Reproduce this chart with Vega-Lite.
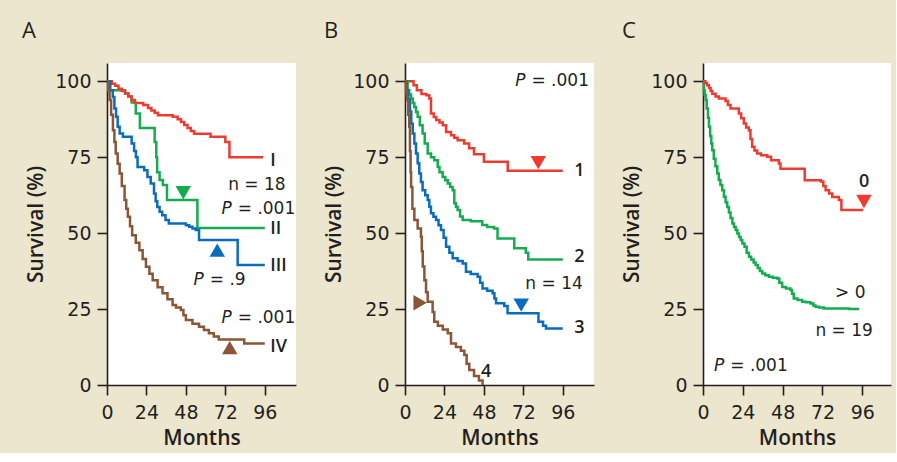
{
  "$schema": "https://vega.github.io/schema/vega-lite/v6.json",
  "background": "#EDE6CF",
  "padding": {"left": 22, "top": 20, "right": 5, "bottom": 5},
  "spacing": 27,
  "config": {
    "view": {"fill": "white", "stroke": null},
    "font": "Open Sans",
    "axis": {
      "grid": false,
      "domainColor": "#231F20", "domainWidth": 1.6,
      "tickColor": "#231F20", "tickWidth": 1.6, "tickSize": 10,
      "labelFont": "DejaVu Sans", "labelFontSize": 19, "labelColor": "#231F20",
      "titleFont": "Open Sans", "titleFontSize": 21, "titleFontWeight": 600, "titleColor": "#231F20"
    },
    "axisX": {"labelPadding": 8, "titlePadding": 5, "labelFlush": false},
    "axisY": {"labelPadding": 6, "titlePadding": 8},
    "title": {"anchor": "start", "frame": "group", "fontSize": 22, "fontWeight": "normal", "font": "Open Sans", "color": "#231F20", "baseline": "alphabetic", "offset": 20},
    "text": {"font": "DejaVu Sans", "fontSize": 17, "color": "#231F20", "baseline": "middle"}
  },
  "datasets": {
    "km": [
      {"panel":"A","curve":"II","m":0,"s":100},{"panel":"A","curve":"II","m":1,"s":97},{"panel":"A","curve":"II","m":11,"s":96},{"panel":"A","curve":"II","m":13,"s":95},{"panel":"A","curve":"II","m":15,"s":93},{"panel":"A","curve":"II","m":17.5,"s":89.4},{"panel":"A","curve":"II","m":20,"s":84.6},{"panel":"A","curve":"II","m":29,"s":80},{"panel":"A","curve":"II","m":30,"s":75},{"panel":"A","curve":"II","m":30.5,"s":70},{"panel":"A","curve":"II","m":32,"s":67.5},{"panel":"A","curve":"II","m":34,"s":65.8},{"panel":"A","curve":"II","m":36.5,"s":60.9},{"panel":"A","curve":"II","m":55,"s":51.7},{"panel":"A","curve":"II","m":96,"s":51.7},

      {"panel":"A","curve":"I","m":0,"s":100},{"panel":"A","curve":"I","m":3,"s":99.2},{"panel":"A","curve":"I","m":5,"s":98.5},{"panel":"A","curve":"I","m":7,"s":97.5},{"panel":"A","curve":"I","m":9,"s":96.8},{"panel":"A","curve":"I","m":11,"s":96},{"panel":"A","curve":"I","m":13,"s":95},{"panel":"A","curve":"I","m":15,"s":93.8},{"panel":"A","curve":"I","m":17,"s":92.8},{"panel":"A","curve":"I","m":22,"s":92.2},{"panel":"A","curve":"I","m":25,"s":91.2},{"panel":"A","curve":"I","m":27,"s":90.4},{"panel":"A","curve":"I","m":29,"s":89.6},{"panel":"A","curve":"I","m":31,"s":88.8},{"panel":"A","curve":"I","m":40,"s":88.3},{"panel":"A","curve":"I","m":43,"s":87.5},{"panel":"A","curve":"I","m":45,"s":86.6},{"panel":"A","curve":"I","m":47,"s":85.6},{"panel":"A","curve":"I","m":49,"s":84.6},{"panel":"A","curve":"I","m":51,"s":83.6},{"panel":"A","curve":"I","m":53,"s":82.7},{"panel":"A","curve":"I","m":63,"s":81.7},{"panel":"A","curve":"I","m":72,"s":80},{"panel":"A","curve":"I","m":74.5,"s":75},{"panel":"A","curve":"I","m":95,"s":75},

      {"panel":"A","curve":"III","m":0,"s":100},{"panel":"A","curve":"III","m":2,"s":97},{"panel":"A","curve":"III","m":3.5,"s":94.8},{"panel":"A","curve":"III","m":4.5,"s":91},{"panel":"A","curve":"III","m":5.5,"s":88.3},{"panel":"A","curve":"III","m":6.5,"s":85},{"panel":"A","curve":"III","m":7.7,"s":82.8},{"panel":"A","curve":"III","m":9.7,"s":81.7},{"panel":"A","curve":"III","m":15,"s":79.5},{"panel":"A","curve":"III","m":16.5,"s":77},{"panel":"A","curve":"III","m":17.6,"s":75},{"panel":"A","curve":"III","m":18.6,"s":71.8},{"panel":"A","curve":"III","m":22.6,"s":70.7},{"panel":"A","curve":"III","m":24.6,"s":68.5},{"panel":"A","curve":"III","m":26.6,"s":66.3},{"panel":"A","curve":"III","m":28.6,"s":63},{"panel":"A","curve":"III","m":29.6,"s":60.5},{"panel":"A","curve":"III","m":30.6,"s":58.6},{"panel":"A","curve":"III","m":32,"s":57},{"panel":"A","curve":"III","m":33.6,"s":55.9},{"panel":"A","curve":"III","m":35.6,"s":54.3},{"panel":"A","curve":"III","m":37.6,"s":53.2},{"panel":"A","curve":"III","m":48,"s":52.6},{"panel":"A","curve":"III","m":50,"s":52.1},{"panel":"A","curve":"III","m":52,"s":51.5},{"panel":"A","curve":"III","m":54,"s":51},{"panel":"A","curve":"III","m":56,"s":47.7},{"panel":"A","curve":"III","m":79.5,"s":39.5},{"panel":"A","curve":"III","m":96,"s":39.5},

      {"panel":"A","curve":"IV","m":0,"s":100},{"panel":"A","curve":"IV","m":0.8,"s":97},{"panel":"A","curve":"IV","m":1.6,"s":93.8},{"panel":"A","curve":"IV","m":2.5,"s":89},{"panel":"A","curve":"IV","m":3.6,"s":83.9},{"panel":"A","curve":"IV","m":4.5,"s":80},{"panel":"A","curve":"IV","m":5.3,"s":76.2},{"panel":"A","curve":"IV","m":6.5,"s":72.8},{"panel":"A","curve":"IV","m":7.7,"s":69.6},{"panel":"A","curve":"IV","m":9,"s":65.5},{"panel":"A","curve":"IV","m":10.7,"s":60.9},{"panel":"A","curve":"IV","m":11.7,"s":58},{"panel":"A","curve":"IV","m":12.7,"s":55.4},{"panel":"A","curve":"IV","m":14,"s":52.3},{"panel":"A","curve":"IV","m":15.3,"s":49.3},{"panel":"A","curve":"IV","m":17.5,"s":46.8},{"panel":"A","curve":"IV","m":19.7,"s":44.4},{"panel":"A","curve":"IV","m":21.7,"s":41.5},{"panel":"A","curve":"IV","m":23.7,"s":38.9},{"panel":"A","curve":"IV","m":25.8,"s":36.6},{"panel":"A","curve":"IV","m":27.8,"s":34.5},{"panel":"A","curve":"IV","m":30.8,"s":32.2},{"panel":"A","curve":"IV","m":33.8,"s":30.2},{"panel":"A","curve":"IV","m":36.8,"s":28.2},{"panel":"A","curve":"IV","m":39.9,"s":26.3},{"panel":"A","curve":"IV","m":42,"s":25.5},{"panel":"A","curve":"IV","m":44.9,"s":24.7},{"panel":"A","curve":"IV","m":46.5,"s":23},{"panel":"A","curve":"IV","m":48,"s":21.4},{"panel":"A","curve":"IV","m":52,"s":20.2},{"panel":"A","curve":"IV","m":56,"s":19.2},{"panel":"A","curve":"IV","m":59,"s":18.1},{"panel":"A","curve":"IV","m":62,"s":17},{"panel":"A","curve":"IV","m":65,"s":16},{"panel":"A","curve":"IV","m":68,"s":15},{"panel":"A","curve":"IV","m":83.5,"s":13.7},{"panel":"A","curve":"IV","m":96,"s":13.7},

      {"panel":"B","curve":"1","m":0,"s":100},{"panel":"B","curve":"1","m":5.2,"s":98.7},{"panel":"B","curve":"1","m":7.2,"s":97},{"panel":"B","curve":"1","m":10,"s":95.8},{"panel":"B","curve":"1","m":13,"s":95.4},{"panel":"B","curve":"1","m":14.8,"s":94.3},{"panel":"B","curve":"1","m":15.8,"s":89.4},{"panel":"B","curve":"1","m":17.5,"s":88.2},{"panel":"B","curve":"1","m":19,"s":87.2},{"panel":"B","curve":"1","m":21,"s":86.4},{"panel":"B","curve":"1","m":23,"s":85.5},{"panel":"B","curve":"1","m":25,"s":83.3},{"panel":"B","curve":"1","m":28,"s":82.2},{"panel":"B","curve":"1","m":30,"s":81.4},{"panel":"B","curve":"1","m":32,"s":80.6},{"panel":"B","curve":"1","m":36,"s":79.5},{"panel":"B","curve":"1","m":39,"s":77.9},{"panel":"B","curve":"1","m":42,"s":76},{"panel":"B","curve":"1","m":48,"s":73.5},{"panel":"B","curve":"1","m":62.5,"s":70.5},{"panel":"B","curve":"1","m":96,"s":70.5},

      {"panel":"B","curve":"2","m":0,"s":100},{"panel":"B","curve":"2","m":1.6,"s":97},{"panel":"B","curve":"2","m":2.6,"s":95.6},{"panel":"B","curve":"2","m":3.7,"s":94.3},{"panel":"B","curve":"2","m":4.7,"s":92.8},{"panel":"B","curve":"2","m":5.7,"s":91.5},{"panel":"B","curve":"2","m":6.7,"s":89.9},{"panel":"B","curve":"2","m":7.7,"s":88.3},{"panel":"B","curve":"2","m":9,"s":85.5},{"panel":"B","curve":"2","m":10.7,"s":82.8},{"panel":"B","curve":"2","m":12,"s":79.5},{"panel":"B","curve":"2","m":13.8,"s":76.2},{"panel":"B","curve":"2","m":15.8,"s":75},{"panel":"B","curve":"2","m":17.8,"s":74},{"panel":"B","curve":"2","m":19.9,"s":71.8},{"panel":"B","curve":"2","m":21,"s":70},{"panel":"B","curve":"2","m":22.9,"s":68.5},{"panel":"B","curve":"2","m":24.5,"s":67.4},{"panel":"B","curve":"2","m":26,"s":66.3},{"panel":"B","curve":"2","m":27.5,"s":65.2},{"panel":"B","curve":"2","m":29,"s":64.1},{"panel":"B","curve":"2","m":30,"s":59.8},{"panel":"B","curve":"2","m":31,"s":58.7},{"panel":"B","curve":"2","m":32,"s":57.6},{"panel":"B","curve":"2","m":33.5,"s":55.5},{"panel":"B","curve":"2","m":35.1,"s":54.3},{"panel":"B","curve":"2","m":40,"s":53.9},{"panel":"B","curve":"2","m":47,"s":52.7},{"panel":"B","curve":"2","m":50,"s":52},{"panel":"B","curve":"2","m":54.2,"s":51.5},{"panel":"B","curve":"2","m":56.3,"s":48.2},{"panel":"B","curve":"2","m":66.5,"s":45},{"panel":"B","curve":"2","m":73.5,"s":43.5},{"panel":"B","curve":"2","m":75,"s":41.3},{"panel":"B","curve":"2","m":96,"s":41.3},

      {"panel":"B","curve":"3","m":0,"s":100},{"panel":"B","curve":"3","m":1,"s":97},{"panel":"B","curve":"3","m":2,"s":94},{"panel":"B","curve":"3","m":3,"s":90},{"panel":"B","curve":"3","m":3.8,"s":86},{"panel":"B","curve":"3","m":4.7,"s":82.8},{"panel":"B","curve":"3","m":5.7,"s":79.5},{"panel":"B","curve":"3","m":6.7,"s":76.2},{"panel":"B","curve":"3","m":7.7,"s":73},{"panel":"B","curve":"3","m":8.7,"s":69.6},{"panel":"B","curve":"3","m":9.7,"s":66.8},{"panel":"B","curve":"3","m":10.7,"s":64.1},{"panel":"B","curve":"3","m":12.3,"s":62.5},{"panel":"B","curve":"3","m":13.8,"s":60.9},{"panel":"B","curve":"3","m":14.8,"s":58.7},{"panel":"B","curve":"3","m":15.8,"s":56.5},{"panel":"B","curve":"3","m":17.3,"s":55.4},{"panel":"B","curve":"3","m":18.9,"s":54.3},{"panel":"B","curve":"3","m":20.4,"s":52.6},{"panel":"B","curve":"3","m":21.9,"s":51},{"panel":"B","curve":"3","m":23.5,"s":48.5},{"panel":"B","curve":"3","m":25,"s":45.5},{"panel":"B","curve":"3","m":27,"s":43.5},{"panel":"B","curve":"3","m":29,"s":41.7},{"panel":"B","curve":"3","m":32,"s":40.8},{"panel":"B","curve":"3","m":35.1,"s":40},{"panel":"B","curve":"3","m":37.1,"s":37.3},{"panel":"B","curve":"3","m":40,"s":36.5},{"panel":"B","curve":"3","m":44.2,"s":35.6},{"panel":"B","curve":"3","m":45.7,"s":33.7},{"panel":"B","curve":"3","m":47.2,"s":31.8},{"panel":"B","curve":"3","m":50,"s":31},{"panel":"B","curve":"3","m":53.3,"s":30.2},{"panel":"B","curve":"3","m":54.4,"s":28.5},{"panel":"B","curve":"3","m":55.4,"s":26.9},{"panel":"B","curve":"3","m":60.4,"s":26},{"panel":"B","curve":"3","m":62.4,"s":23.6},{"panel":"B","curve":"3","m":81.2,"s":20.8},{"panel":"B","curve":"3","m":84,"s":19.5},{"panel":"B","curve":"3","m":85.8,"s":18.6},{"panel":"B","curve":"3","m":96,"s":18.6},

      {"panel":"B","curve":"4","m":0,"s":100},{"panel":"B","curve":"4","m":0.6,"s":96},{"panel":"B","curve":"4","m":1.2,"s":93.8},{"panel":"B","curve":"4","m":2,"s":89},{"panel":"B","curve":"4","m":2.6,"s":85},{"panel":"B","curve":"4","m":3,"s":77},{"panel":"B","curve":"4","m":3.4,"s":70},{"panel":"B","curve":"4","m":3.7,"s":65.2},{"panel":"B","curve":"4","m":4.5,"s":58},{"panel":"B","curve":"4","m":5.7,"s":54.3},{"panel":"B","curve":"4","m":7.7,"s":51.5},{"panel":"B","curve":"4","m":9.7,"s":48.8},{"panel":"B","curve":"4","m":10.2,"s":44},{"panel":"B","curve":"4","m":10.8,"s":39},{"panel":"B","curve":"4","m":11.8,"s":34.5},{"panel":"B","curve":"4","m":12.8,"s":30.5},{"panel":"B","curve":"4","m":13.8,"s":27.4},{"panel":"B","curve":"4","m":16.8,"s":24},{"panel":"B","curve":"4","m":17.8,"s":20.8},{"panel":"B","curve":"4","m":20,"s":19.5},{"panel":"B","curve":"4","m":23,"s":18.3},{"panel":"B","curve":"4","m":26,"s":17},{"panel":"B","curve":"4","m":28,"s":13.7},{"panel":"B","curve":"4","m":31,"s":12.5},{"panel":"B","curve":"4","m":34,"s":11.3},{"panel":"B","curve":"4","m":36.1,"s":9.9},{"panel":"B","curve":"4","m":37.5,"s":7},{"panel":"B","curve":"4","m":39.1,"s":4.9},{"panel":"B","curve":"4","m":42,"s":3},{"panel":"B","curve":"4","m":45,"s":1.5},{"panel":"B","curve":"4","m":47.2,"s":0},

      {"panel":"C","curve":">0","m":0,"s":100},{"panel":"C","curve":">0","m":0.5,"s":97},{"panel":"C","curve":">0","m":1,"s":95.5},{"panel":"C","curve":">0","m":1.6,"s":93.8},{"panel":"C","curve":">0","m":2.2,"s":91},{"panel":"C","curve":">0","m":3,"s":88},{"panel":"C","curve":">0","m":3.6,"s":85},{"panel":"C","curve":">0","m":4.3,"s":82},{"panel":"C","curve":">0","m":5,"s":79.5},{"panel":"C","curve":">0","m":5.6,"s":77.3},{"panel":"C","curve":">0","m":6.5,"s":74.5},{"panel":"C","curve":">0","m":7.5,"s":72},{"panel":"C","curve":">0","m":8.6,"s":69.6},{"panel":"C","curve":">0","m":9.5,"s":67.5},{"panel":"C","curve":">0","m":10.5,"s":65.8},{"panel":"C","curve":">0","m":11.6,"s":64.1},{"panel":"C","curve":">0","m":12.6,"s":62},{"panel":"C","curve":">0","m":13.6,"s":60.2},{"panel":"C","curve":">0","m":14.6,"s":58.6},{"panel":"C","curve":">0","m":15.6,"s":56.8},{"panel":"C","curve":">0","m":16.6,"s":55},{"panel":"C","curve":">0","m":17.7,"s":53.2},{"panel":"C","curve":">0","m":18.7,"s":52},{"panel":"C","curve":">0","m":19.7,"s":51},{"panel":"C","curve":">0","m":20.7,"s":49.9},{"panel":"C","curve":">0","m":21.7,"s":48.7},{"panel":"C","curve":">0","m":22.7,"s":47.7},{"panel":"C","curve":">0","m":23.7,"s":46.6},{"panel":"C","curve":">0","m":25,"s":45.5},{"panel":"C","curve":">0","m":26.3,"s":43.5},{"panel":"C","curve":">0","m":27.7,"s":42.2},{"panel":"C","curve":">0","m":29,"s":41.3},{"panel":"C","curve":">0","m":30.5,"s":40.3},{"panel":"C","curve":">0","m":31.7,"s":39.5},{"panel":"C","curve":">0","m":33,"s":38.5},{"panel":"C","curve":">0","m":34.3,"s":37.5},{"panel":"C","curve":">0","m":35.7,"s":36.7},{"panel":"C","curve":">0","m":37.5,"s":36.1},{"panel":"C","curve":">0","m":39.7,"s":35.6},{"panel":"C","curve":">0","m":42,"s":35.3},{"panel":"C","curve":">0","m":44.7,"s":35.1},{"panel":"C","curve":">0","m":46,"s":33.7},{"panel":"C","curve":">0","m":47.7,"s":32.3},{"panel":"C","curve":">0","m":50,"s":31.8},{"panel":"C","curve":">0","m":52.7,"s":31.3},{"panel":"C","curve":">0","m":53.7,"s":30},{"panel":"C","curve":">0","m":54.7,"s":28.5},{"panel":"C","curve":">0","m":57,"s":28},{"panel":"C","curve":">0","m":59.8,"s":27.4},{"panel":"C","curve":">0","m":62,"s":27.2},{"panel":"C","curve":">0","m":64.8,"s":26.8},{"panel":"C","curve":">0","m":66.5,"s":26.2},{"panel":"C","curve":">0","m":67.8,"s":25.8},{"panel":"C","curve":">0","m":70,"s":25.5},{"panel":"C","curve":">0","m":72.8,"s":25.2},{"panel":"C","curve":">0","m":88,"s":25},{"panel":"C","curve":">0","m":94,"s":25},

      {"panel":"C","curve":"0","m":0,"s":100},{"panel":"C","curve":"0","m":1.5,"s":99.3},{"panel":"C","curve":"0","m":2.5,"s":98.7},{"panel":"C","curve":"0","m":3.6,"s":97.8},{"panel":"C","curve":"0","m":4.6,"s":96.8},{"panel":"C","curve":"0","m":5.6,"s":95.9},{"panel":"C","curve":"0","m":7.6,"s":95},{"panel":"C","curve":"0","m":9.6,"s":94.3},{"panel":"C","curve":"0","m":13.6,"s":93.5},{"panel":"C","curve":"0","m":15,"s":92.2},{"panel":"C","curve":"0","m":16.6,"s":91},{"panel":"C","curve":"0","m":21.6,"s":89.4},{"panel":"C","curve":"0","m":23,"s":87.8},{"panel":"C","curve":"0","m":24.6,"s":86.1},{"panel":"C","curve":"0","m":26,"s":84.8},{"panel":"C","curve":"0","m":27.6,"s":83.9},{"panel":"C","curve":"0","m":28.6,"s":81},{"panel":"C","curve":"0","m":29.6,"s":78.4},{"panel":"C","curve":"0","m":31,"s":77.2},{"panel":"C","curve":"0","m":32.6,"s":76.2},{"panel":"C","curve":"0","m":35,"s":75.6},{"panel":"C","curve":"0","m":38.7,"s":75.1},{"panel":"C","curve":"0","m":41,"s":74},{"panel":"C","curve":"0","m":45.7,"s":72.9},{"panel":"C","curve":"0","m":46.7,"s":71.2},{"panel":"C","curve":"0","m":61.3,"s":67.4},{"panel":"C","curve":"0","m":71,"s":67},{"panel":"C","curve":"0","m":72.5,"s":65.5},{"panel":"C","curve":"0","m":73.9,"s":64.1},{"panel":"C","curve":"0","m":76,"s":63},{"panel":"C","curve":"0","m":77.9,"s":61.9},{"panel":"C","curve":"0","m":81.9,"s":60.9},{"panel":"C","curve":"0","m":83.4,"s":57.6},{"panel":"C","curve":"0","m":96.5,"s":57.6}
    ],
    "tri": [
      {"panel":"A","curve":"II","dir":"down","m":46.4,"s":63.3},
      {"panel":"A","curve":"III","dir":"up","m":67.1,"s":44.4},
      {"panel":"A","curve":"IV","dir":"up","m":74.7,"s":12.3},
      {"panel":"B","curve":"1","dir":"down","m":81.1,"s":73.2},
      {"panel":"B","curve":"3","dir":"down","m":70.7,"s":26.3},
      {"panel":"B","curve":"4","dir":"right","m":9.2,"s":27.1},
      {"panel":"C","curve":"0","dir":"down","m":97,"s":60.4}
    ],
    "curveLabels": [
      {"panel":"A","m":99.4,"s":73.8,"text":"I"},
      {"panel":"A","m":99.4,"s":51.3,"text":"II"},
      {"panel":"A","m":99.4,"s":39.2,"text":"III"},
      {"panel":"A","m":99.4,"s":12.6,"text":"IV"},
      {"panel":"B","m":103,"s":70.5,"text":"1"},
      {"panel":"B","m":103,"s":42,"text":"2"},
      {"panel":"B","m":103,"s":18.6,"text":"3"},
      {"panel":"B","m":46.3,"s":4.4,"text":"4"},
      {"panel":"C","m":94,"s":66.9,"text":"0"}
    ],
    "nLabels": [
      {"panel":"A","m":108.7,"s":65.8,"text":"n = 18"},
      {"panel":"B","m":108.2,"s":33.2,"text":"n = 14"},
      {"panel":"C","m":102.4,"s":17.8,"text":"n = 19"},
      {"panel":"C","m":97.9,"s":30.2,"text":"> 0"}
    ],
    "pLabels": [
      {"panel":"A","m":75.9,"s":58.1,"p":"P","rest":"= .001"},
      {"panel":"A","m":58.9,"s":34.5,"p":"P","rest":"= .9"},
      {"panel":"A","m":75.9,"s":21.9,"p":"P","rest":"= .001"},
      {"panel":"B","m":73.3,"s":100,"p":"P","rest":"= .001"},
      {"panel":"C","m":12.8,"s":6.3,"p":"P","rest":"= .001"}
    ]
  },
  "hconcat": [
    {
      "width": 189, "height": 322,
      "title": {"text": "A", "dx": -85},
      "layer": [
        {"data": {"name": "km"}, "transform": [{"filter": "datum.panel === 'A'"}],
         "mark": {"type": "line", "interpolate": "step-after", "strokeWidth": 2.5},
         "encoding": {
           "x": {"field": "m", "type": "quantitative", "scale": {"domain": [0, 115], "nice": false}, "axis": {"title": "Months", "values": [0, 24, 48, 72, 96]}},
           "y": {"field": "s", "type": "quantitative", "scale": {"domain": [0, 106], "nice": false}, "axis": {"title": "Survival (%)", "values": [0, 25, 50, 75, 100]}},
           "color": {"field": "curve", "type": "nominal", "scale": {"domain": ["I","II","III","IV","1","2","3","4","0",">0"], "range": ["#EE3B31","#14AC4F","#0A6CBE","#8B5636","#EE3B31","#14AC4F","#0A6CBE","#8B5636","#EE3B31","#14AC4F"]}, "legend": null}
         }},
        {"data": {"name": "tri"}, "transform": [{"filter": "datum.panel === 'A'"}],
         "mark": {"type": "point", "filled": true, "size": 240, "opacity": 1},
         "encoding": {
           "x": {"field": "m", "type": "quantitative"},
           "y": {"field": "s", "type": "quantitative"},
           "color": {"field": "curve", "type": "nominal", "legend": null},
           "shape": {"field": "dir", "type": "nominal", "scale": {"domain": ["down","up","right"], "range": ["triangle-down","triangle-up","triangle-right"]}, "legend": null}
         }},
        {"data": {"name": "curveLabels"}, "transform": [{"filter": "datum.panel === 'A'"}],
         "mark": {"type": "text", "align": "left", "fontWeight": 600, "font": "Open Sans", "fontSize": 18},
         "encoding": {"x": {"field": "m", "type": "quantitative"}, "y": {"field": "s", "type": "quantitative"}, "text": {"field": "text"}}},
        {"data": {"name": "nLabels"}, "transform": [{"filter": "datum.panel === 'A'"}],
         "mark": {"type": "text", "align": "right"},
         "encoding": {"x": {"field": "m", "type": "quantitative"}, "y": {"field": "s", "type": "quantitative"}, "text": {"field": "text"}}},
        {"data": {"name": "pLabels"}, "transform": [{"filter": "datum.panel === 'A'"}],
         "mark": {"type": "text", "align": "right", "fontStyle": "italic"},
         "encoding": {"x": {"field": "m", "type": "quantitative"}, "y": {"field": "s", "type": "quantitative"}, "text": {"field": "p"}}},
        {"data": {"name": "pLabels"}, "transform": [{"filter": "datum.panel === 'A'"}],
         "mark": {"type": "text", "align": "left", "dx": 6},
         "encoding": {"x": {"field": "m", "type": "quantitative"}, "y": {"field": "s", "type": "quantitative"}, "text": {"field": "rest"}}}
      ]
    },
    {
      "width": 189, "height": 322,
      "title": {"text": "B", "dx": -81},
      "layer": [
        {"data": {"name": "km"}, "transform": [{"filter": "datum.panel === 'B'"}],
         "mark": {"type": "line", "interpolate": "step-after", "strokeWidth": 2.5},
         "encoding": {
           "x": {"field": "m", "type": "quantitative", "scale": {"domain": [0, 115], "nice": false}, "axis": {"title": "Months", "values": [0, 24, 48, 72, 96]}},
           "y": {"field": "s", "type": "quantitative", "scale": {"domain": [0, 106], "nice": false}, "axis": {"title": "Survival (%)", "values": [0, 25, 50, 75, 100]}},
           "color": {"field": "curve", "type": "nominal", "scale": {"domain": ["I","II","III","IV","1","2","3","4","0",">0"], "range": ["#EE3B31","#14AC4F","#0A6CBE","#8B5636","#EE3B31","#14AC4F","#0A6CBE","#8B5636","#EE3B31","#14AC4F"]}, "legend": null}
         }},
        {"data": {"name": "tri"}, "transform": [{"filter": "datum.panel === 'B'"}],
         "mark": {"type": "point", "filled": true, "size": 240, "opacity": 1},
         "encoding": {
           "x": {"field": "m", "type": "quantitative"},
           "y": {"field": "s", "type": "quantitative"},
           "color": {"field": "curve", "type": "nominal", "legend": null},
           "shape": {"field": "dir", "type": "nominal", "scale": {"domain": ["down","up","right"], "range": ["triangle-down","triangle-up","triangle-right"]}, "legend": null}
         }},
        {"data": {"name": "curveLabels"}, "transform": [{"filter": "datum.panel === 'B'"}],
         "mark": {"type": "text", "align": "left", "fontWeight": 600, "font": "Open Sans", "fontSize": 18},
         "encoding": {"x": {"field": "m", "type": "quantitative"}, "y": {"field": "s", "type": "quantitative"}, "text": {"field": "text"}}},
        {"data": {"name": "nLabels"}, "transform": [{"filter": "datum.panel === 'B'"}],
         "mark": {"type": "text", "align": "right"},
         "encoding": {"x": {"field": "m", "type": "quantitative"}, "y": {"field": "s", "type": "quantitative"}, "text": {"field": "text"}}},
        {"data": {"name": "pLabels"}, "transform": [{"filter": "datum.panel === 'B'"}],
         "mark": {"type": "text", "align": "right", "fontStyle": "italic"},
         "encoding": {"x": {"field": "m", "type": "quantitative"}, "y": {"field": "s", "type": "quantitative"}, "text": {"field": "p"}}},
        {"data": {"name": "pLabels"}, "transform": [{"filter": "datum.panel === 'B'"}],
         "mark": {"type": "text", "align": "left", "dx": 6},
         "encoding": {"x": {"field": "m", "type": "quantitative"}, "y": {"field": "s", "type": "quantitative"}, "text": {"field": "rest"}}}
      ]
    },
    {
      "width": 188, "height": 322,
      "title": {"text": "C", "dx": -81},
      "layer": [
        {"data": {"name": "km"}, "transform": [{"filter": "datum.panel === 'C'"}],
         "mark": {"type": "line", "interpolate": "step-after", "strokeWidth": 2.5},
         "encoding": {
           "x": {"field": "m", "type": "quantitative", "scale": {"domain": [0, 113.3], "nice": false}, "axis": {"title": "Months", "values": [0, 24, 48, 72, 96]}},
           "y": {"field": "s", "type": "quantitative", "scale": {"domain": [0, 106], "nice": false}, "axis": {"title": "Survival (%)", "values": [0, 25, 50, 75, 100]}},
           "color": {"field": "curve", "type": "nominal", "scale": {"domain": ["I","II","III","IV","1","2","3","4","0",">0"], "range": ["#EE3B31","#14AC4F","#0A6CBE","#8B5636","#EE3B31","#14AC4F","#0A6CBE","#8B5636","#EE3B31","#14AC4F"]}, "legend": null}
         }},
        {"data": {"name": "tri"}, "transform": [{"filter": "datum.panel === 'C'"}],
         "mark": {"type": "point", "filled": true, "size": 240, "opacity": 1},
         "encoding": {
           "x": {"field": "m", "type": "quantitative"},
           "y": {"field": "s", "type": "quantitative"},
           "color": {"field": "curve", "type": "nominal", "legend": null},
           "shape": {"field": "dir", "type": "nominal", "scale": {"domain": ["down","up","right"], "range": ["triangle-down","triangle-up","triangle-right"]}, "legend": null}
         }},
        {"data": {"name": "curveLabels"}, "transform": [{"filter": "datum.panel === 'C'"}],
         "mark": {"type": "text", "align": "left", "fontWeight": 600, "font": "Open Sans", "fontSize": 18},
         "encoding": {"x": {"field": "m", "type": "quantitative"}, "y": {"field": "s", "type": "quantitative"}, "text": {"field": "text"}}},
        {"data": {"name": "nLabels"}, "transform": [{"filter": "datum.panel === 'C'"}],
         "mark": {"type": "text", "align": "right"},
         "encoding": {"x": {"field": "m", "type": "quantitative"}, "y": {"field": "s", "type": "quantitative"}, "text": {"field": "text"}}},
        {"data": {"name": "pLabels"}, "transform": [{"filter": "datum.panel === 'C'"}],
         "mark": {"type": "text", "align": "right", "fontStyle": "italic"},
         "encoding": {"x": {"field": "m", "type": "quantitative"}, "y": {"field": "s", "type": "quantitative"}, "text": {"field": "p"}}},
        {"data": {"name": "pLabels"}, "transform": [{"filter": "datum.panel === 'C'"}],
         "mark": {"type": "text", "align": "left", "dx": 6},
         "encoding": {"x": {"field": "m", "type": "quantitative"}, "y": {"field": "s", "type": "quantitative"}, "text": {"field": "rest"}}}
      ]
    }
  ]
}
